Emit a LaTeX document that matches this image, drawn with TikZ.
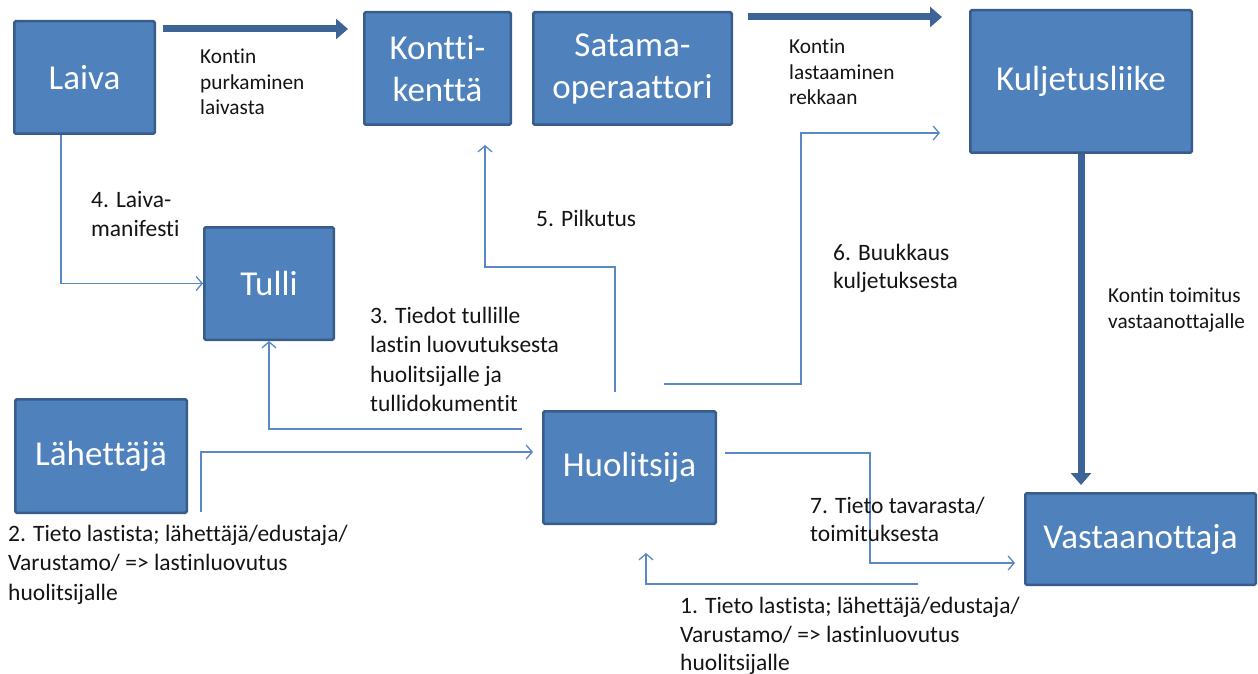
\documentclass[tikz,border=0pt]{standalone}
\usepackage{fontspec}
\setmainfont{Carlito}[Ligatures=NoCommon]
\usetikzlibrary{arrows.meta}
\definecolor{boxfill}{RGB}{79,129,189}
\definecolor{boxline}{RGB}{56,93,138}
\definecolor{flow}{RGB}{88,136,198}
\definecolor{bigflow}{RGB}{60,100,150}
\definecolor{ink}{RGB}{20,20,20}
\begin{document}
\begin{tikzpicture}[x=1pt,y=-1pt,
  actor/.style={draw=boxline, fill=boxfill, line width=2.5pt, rounded corners=1.5pt,
    inner sep=0pt, text=white, font=\fontsize{35}{42}\selectfont, align=center},
  conn/.style={draw=flow, line width=1.3pt, -{Straight Barb[length=6pt,width=14pt]}},
  bigconn/.style={draw=bigflow, line width=7pt, -{Triangle[length=12pt,width=20pt]}},
  lbl/.style={anchor=north west, inner sep=0pt, align=left, text=ink},
  small/.style={font=\fontsize{21.3}{25.5}\selectfont},
  mid/.style={font=\fontsize{23.5}{28.2}\selectfont},
  large/.style={font=\fontsize{23.5}{29.5}\selectfont},
  bottomtext/.style={font=\fontsize{23.5}{28.7}\selectfont},
]
\useasboundingbox (0,0) rectangle (1258,674);

% parties
\node[actor, minimum width=140.5pt, minimum height=112.5pt] (laiva)  at (84.5,77.5)  {Laiva};
\node[actor, minimum width=146.5pt, minimum height=112.5pt] (kontti) at (437.5,68.5) {Kontti-\\kenttä};
\node[actor, minimum width=198.5pt, minimum height=112.5pt] (satama) at (632.5,68.5) {Satama-\\operaattori};
\node[actor, minimum width=221.5pt, minimum height=142.5pt] (kulj)   at (1081,81.5)  {Kuljetusliike};
\node[actor, minimum width=129.5pt, minimum height=112.5pt] (tulli)  at (269,283.5)  {Tulli};
\node[actor, minimum width=171.5pt, minimum height=113.5pt] (lahet)  at (101,456)    {Lähettäjä};
\node[actor, minimum width=172.5pt, minimum height=112.5pt] (huol)   at (629.5,467.5) {Huolitsija};
\node[actor, minimum width=230.5pt, minimum height=91.5pt]  (vast)   at (1140.5,539) {Vastaanottaja};

% container movements
\coordinate (unloadA) at (163,29);
\coordinate (unloadB) at (348,29);
\coordinate (loadA)   at (748,17);
\coordinate (loadB)   at (942,17);
\coordinate (deliverB) at (1081,485);
\draw[bigconn] (unloadA) -- (unloadB);
\draw[bigconn] (loadA) -- (loadB);
\draw[bigconn] (kulj.south) -- (deliverB);

% information flows
\coordinate (manA) at (61,135);
\draw[conn] (manA) |- (tulli.west);

\coordinate (custA) at (522,429);
\draw[conn] (custA) -| (tulli.south);

\coordinate (sendA) at (201,512);
\coordinate (sendB) at (533,452);
\draw[conn] (sendA) |- (sendB);

\coordinate (pickA) at (615,392);
\coordinate (pickB) at (485,267);
\coordinate (pickC) at (485,145);
\draw[conn] (pickA) |- (pickB) -- (pickC);

\coordinate (bookA) at (664,384);
\coordinate (bookB) at (801,133);
\coordinate (bookC) at (940,133);
\draw[conn] (bookA) -| (bookB) -- (bookC);

\coordinate (infoA) at (725,453);
\coordinate (infoB) at (870,563);
\coordinate (infoC) at (1015,563);
\draw[conn] (infoA) -| (infoB) -- (infoC);

\coordinate (recvA) at (918,584);
\coordinate (recvB) at (646,553);
\draw[conn] (recvA) -| (recvB);

% labels
\node[lbl, small] (tUnload) at (200,49)  {Kontin\\purkaminen\\laivasta};
\node[lbl, small] (tLoad)   at (789,39)  {Kontin\\lastaaminen\\rekkaan};
\node[lbl, mid]   (tMan)    at (91,191.5) {4. Laiva-\\manifesti};
\node[lbl, mid]   (tPick)   at (536,209.5) {5. Pilkutus};
\node[lbl, mid]   (tBook)   at (833,244) {6. Buukkaus\\kuljetuksesta};
\node[lbl, small] (tDel)    at (1108,288) {Kontin toimitus\\vastaanottajalle};
\node[lbl, large] (tCust)   at (370,306.5) {3. Tiedot tullille\\lastin luovutuksesta\\huolitsijalle ja\\tullidokumentit};
\node[lbl, large] (tSend)   at (8,524.5)   {2. Tieto lastista; lähettäjä/edustaja/\\Varustamo/ => lastinluovutus\\huolitsijalle};
\node[lbl, mid]   (tInfo)   at (810,497) {7. Tieto tavarasta/\\toimituksesta};
\node[lbl, bottomtext] (tRecv) at (680,597) {1. Tieto lastista; lähettäjä/edustaja/\\Varustamo/ => lastinluovutus\\huolitsijalle};
\end{tikzpicture}
\end{document}
